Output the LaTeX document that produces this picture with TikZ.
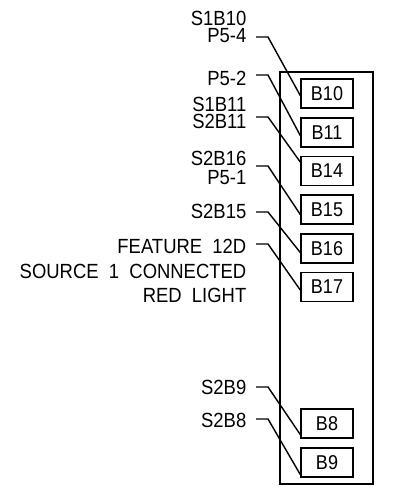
\documentclass[tikz,border=0pt]{standalone}
\usepackage{fontspec}
\setmainfont{Liberation Sans}[WordSpace=2,FakeStretch=0.9]
\usetikzlibrary{calc}

\begin{document}
\begin{tikzpicture}[x=1pt,y=-1pt,line width=1.4pt,
  lbl/.style={anchor=base east,inner sep=0pt,text height=14pt,text depth=0pt,font=\fontsize{20.5}{20.5}\selectfont},
  pin/.style={draw,line width=1.5pt,minimum width=52pt,minimum height=29pt,inner sep=0pt,font=\fontsize{20}{20}\selectfont}]
\useasboundingbox (0,0) rectangle (392,486);
% panel outline
\node[draw,line width=1.5pt,minimum width=93pt,minimum height=412pt,inner sep=0pt] (panel) at (326.5,278) {};
% pin boxes
\foreach \n/\y in {10/93.5,11/132.5,14/171,15/209.5,16/248.5,17/287,8/423.5,9/462.5}
	\node[pin] (B\n) at (327,\y) {B\n};
% wire labels
\foreach \y/\t [count=\i] in {26/S1B10,43/P5-4,86/P5-2,111.5/S1B11,128.5/S2B11,166/S2B16,185/P5-1,218/S2B15,253/FEATURE 12D,278/SOURCE 1 CONNECTED,302/RED LIGHT,394/S2B9,427/S2B8}
	\node[lbl] (t\i) at (247,\y) {\t};
% leaders
\foreach \n/\y/\d in {10/37/2,11/75/3,14/117/-9,15/166/5,16/212/4,17/244/3,8/387/11,9/419/12}
{
	\coordinate (w\n) at (256,\y);
	\draw (w\n) -- ++(12,0) -- ($(B\n.west)+(0,\d)$);
}
\end{tikzpicture}
\end{document}
